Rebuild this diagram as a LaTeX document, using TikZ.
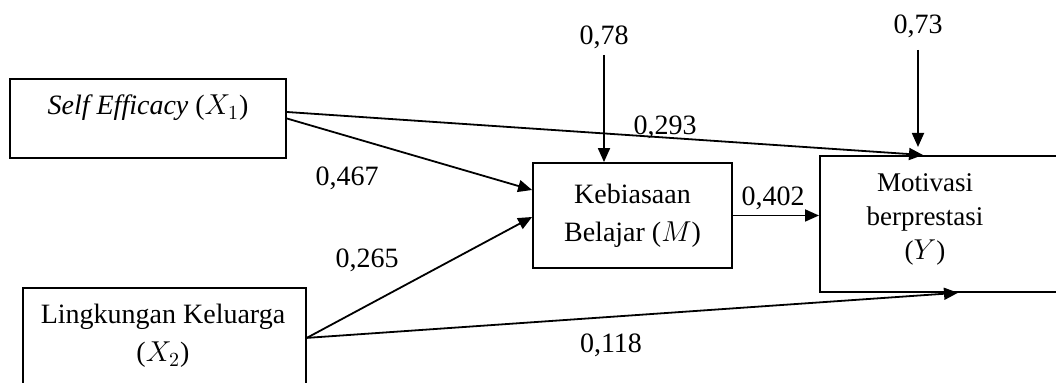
\documentclass[tikz,border=0pt]{standalone}
\usepackage{fontspec}
\setmainfont{Liberation Serif}
\usetikzlibrary{arrows.meta}

\tikzset{
    box/.style={draw, line width=0.9pt, inner sep=0pt},
    lbl/.style={font=\fontsize{14}{19}\selectfont, align=center, inner sep=0pt},
    coef/.style={font=\fontsize{14}{17}\selectfont, inner sep=0pt, anchor=base},
    arr/.style={line width=0.9pt, -{Triangle[length=7pt,width=6pt]}}
}

\begin{document}
\begin{tikzpicture}[x=0.5pt, y=-0.5pt]
    \useasboundingbox (0,0) rectangle (1056,383);
    \node[box, minimum width=138pt, minimum height=39.5pt] (x1) at (148,118.5) {};
    \node[box, anchor=north west, minimum width=141.5pt, minimum height=50pt] (x2) at (22,287) {};
    \node[box, lbl, minimum width=99.5pt, minimum height=52.5pt] (m) at (632.5,215.5) {Kebiasaan\\Belajar ($M$)};
    \node[box, anchor=north west, minimum width=150pt, minimum height=68pt] (y) at (819,155) {};
    \node[lbl] (x1txt) at (148,108) {\textit{Self Efficacy} ($X_1$)};
    \node[lbl] (x2txt) at (163,336) {Lingkungan Keluarga\\($X_2$)};
    \node[lbl, font=\fontsize{13.5}{17}\selectfont] (ytxt) at (925,219) {Motivasi\\berprestasi\\($Y$)};
    \coordinate (em) at (604,55);
    \coordinate (ey) at (918,50);
    \draw[arr] (em) -- (em |- m.north);
    \draw[arr] (ey) -- ([yshift=4pt]ey |- y.north);
    \draw[arr] ([yshift=3.25pt]x1.east) -- ([xshift=52pt]y.north west);
    \draw[arr] (x1.east) -- ([yshift=12.75pt]m.west);
    \draw[arr] (x2.east) -- ([yshift=-0.75pt]m.west);
    \draw[arr] (x2.east) -- ([xshift=69.5pt]y.south west);
    \draw[arr] (m.east) -- (m.east -| y.west);
    \node[coef] (c78) at (604,45) {0,78};
    \node[coef] (c73) at (918,34) {0,73};
    \node[coef] (c293) at (665,135) {0,293};
    \node[coef] (c402) at (773,206) {0,402};
    \node[coef] (c118) at (611,353) {0,118};
    \node[coef] (c467) at (347,186) {0,467};
    \node[coef] (c265) at (367,268) {0,265};
\end{tikzpicture}
\end{document}
